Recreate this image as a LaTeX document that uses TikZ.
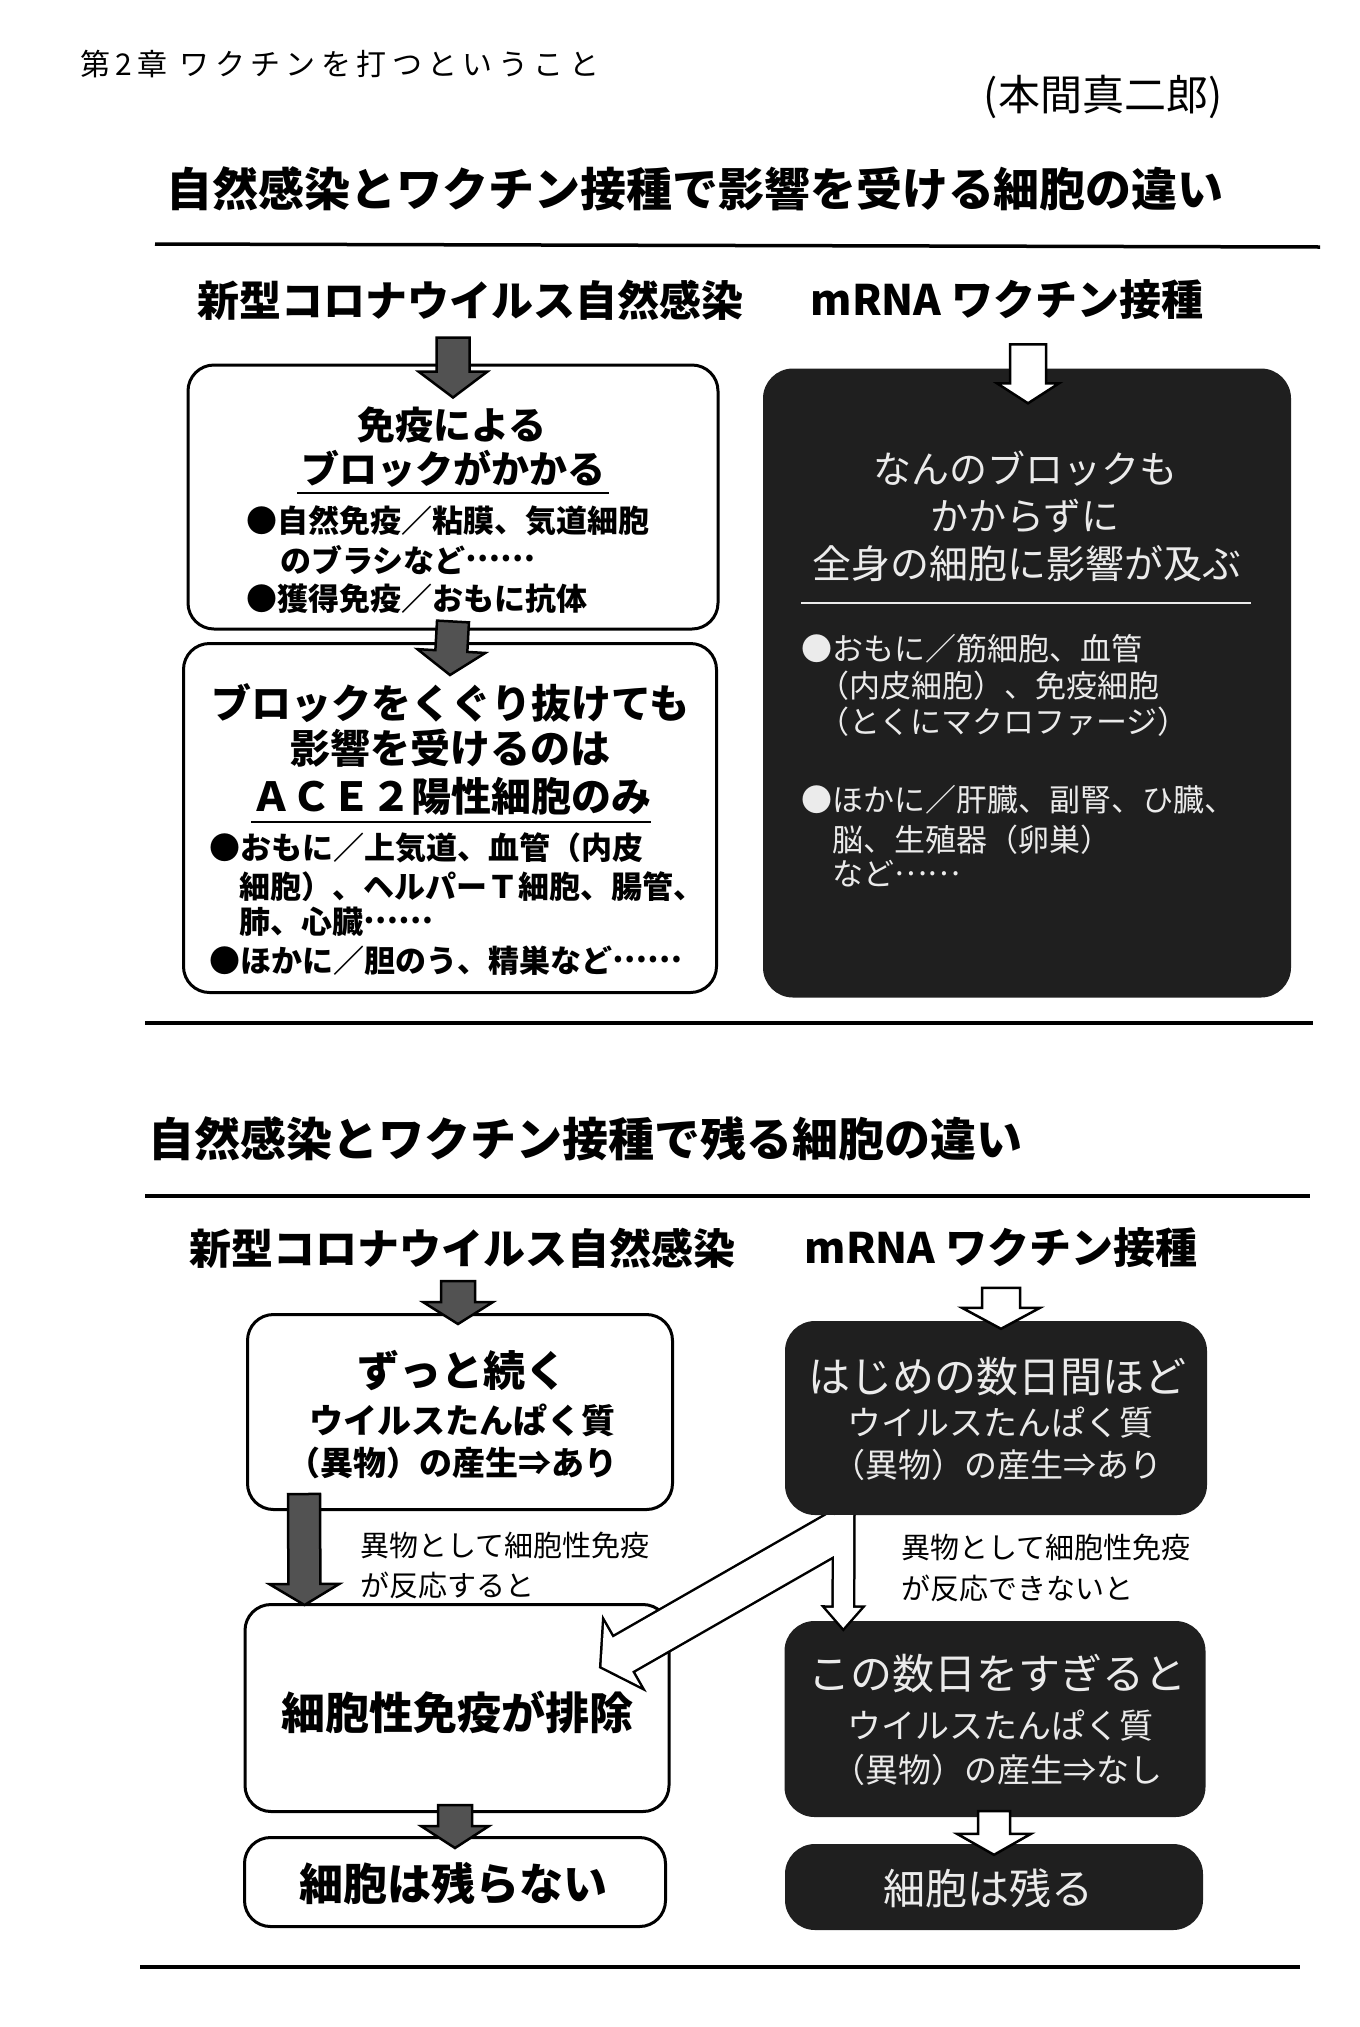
\documentclass[tikz,border=0pt]{standalone}
\usepackage{fontspec}
\setmainfont{Noto Sans CJK JP}
\usetikzlibrary{calc}

\newcommand\sz[1]{\fontsize{#1pt}{#1pt}\selectfont}
\newcommand\tdots{\raisebox{0.34em}{……}}
\newcommand\blockarrow[6][]{%
  \coordinate (ba) at ($(#3)!#6!(#2)$);
  \path[#1] ($(#2)!#4!90:(#3)$) -- ($(ba)!#4!-90:(#2)$) -- ($(ba)!#5!-90:(#2)$) -- (#3)
    -- ($(ba)!#5!90:(#2)$) -- ($(ba)!#4!90:(#2)$) -- ($(#2)!#4!-90:(#3)$) -- cycle;
}

\begin{document}
\begin{tikzpicture}[
    x=1pt, y=-1pt,
    wbox/.style={
      rectangle,
      draw=black,
      line width=3pt,
      fill=white,
      rounded corners=26pt,
      inner sep=0pt
    },
    kbox/.style={
      rectangle,
      fill=black!88,
      rounded corners=30pt,
      inner sep=0pt
    },
    txt/.style={inner sep=0pt},
    wtxt/.style={inner sep=0pt, text=white!92!black},
    rule/.style={line width=3.5pt},
    darr/.style={draw=black, line width=2.5pt, fill=black!68},
    warr/.style={draw=black, line width=2.5pt, fill=white}
]

\useasboundingbox (0,0) rectangle (1360,2027);

\node[txt, anchor=west, font=\sz{30}\addfontfeature{LetterSpace=18}] (chap) at (80,64) {第2章 ワクチンを打つということ};
\node[txt, font=\sz{42}] (sign) at (1103,97) {(本間真二郎)};
\node[txt, font=\bfseries\sz{46}] (ttl1) at (695,189) {自然感染とワクチン接種で影響を受ける細胞の違い};
\draw[rule] (155,244) -- (1320,247);

\node[txt, font=\bfseries\sz{42}] (natL1) at (470,300) {新型コロナウイルス自然感染};
\node[txt, font=\bfseries\sz{42}] (vacR1) at (1007,300) {mRNA ワクチン接種};

\node[wbox, minimum width=530pt, minimum height=264pt] (blk) at (453,497) {};
\node[txt, font=\bfseries\sz{38}] (blk1) at (452,425) {免疫による};
\node[txt, font=\bfseries\sz{38}] (blk2) at (453,469) {ブロックがかかる};
\draw[line width=2pt] (297,493) -- (609,493);
\node[txt, anchor=west, font=\bfseries\sz{31}] (blk3) at (246,521) {●自然免疫／粘膜、気道細胞};
\node[txt, anchor=west, font=\bfseries\sz{31}] (blk4) at (280,560) {のブラシなど\tdots};
\node[txt, anchor=west, font=\bfseries\sz{31}] (blk5) at (246,599) {●獲得免疫／おもに抗体};

\node[wbox, minimum width=533pt, minimum height=349pt] (pass) at (450,818) {};
\node[txt, font=\bfseries\sz{40}] (pass1) at (450,703) {ブロックをくぐり抜けても};
\node[txt, font=\bfseries\sz{40}] (pass2) at (450,748) {影響を受けるのは};
\node[txt, font=\bfseries\sz{40}] (pass3) at (451,796) {ＡＣＥ２陽性細胞のみ};
\draw[line width=2pt] (251,822) -- (651,822);
\node[txt, anchor=west, font=\bfseries\sz{31}] (pass4) at (209,848) {●おもに／上気道、血管（内皮};
\node[txt, anchor=west, font=\bfseries\sz{31}] (pass5) at (239,887) {細胞）、ヘルパーＴ細胞、腸管、};
\node[txt, anchor=west, font=\bfseries\sz{31}] (pass6) at (239,922) {肺、心臓\tdots};
\node[txt, anchor=west, font=\bfseries\sz{31}] (pass7) at (209,961) {●ほかに／胆のう、精巣など\tdots};

\node[kbox, minimum width=528pt, minimum height=629pt] (all) at (1027,683) {};
\node[wtxt, font=\sz{38}] (all1) at (1025,469) {なんのブロックも};
\node[wtxt, font=\sz{38}] (all2) at (1025,516) {かからずに};
\node[wtxt, font=\sz{39}] (all3) at (1027,564) {全身の細胞に影響が及ぶ};
\draw[line width=2pt, white!92!black] (801,603) -- (1251,603);
\node[wtxt, anchor=west, font=\sz{31}] (all4) at (801,649) {●おもに／筋細胞、血管};
\node[wtxt, anchor=west, font=\sz{31}] (all5) at (818,686) {（内皮細胞）、免疫細胞};
\node[wtxt, anchor=west, font=\sz{31}] (all6) at (818,722) {（とくにマクロファージ）};
\node[wtxt, anchor=west, font=\sz{31}] (all7) at (801,800) {●ほかに／肝臓、副腎、ひ臓、};
\node[wtxt, anchor=west, font=\sz{31}] (all8) at (832,840) {脳、生殖器（卵巣）};
\node[wtxt, anchor=west, font=\sz{31}] (all9) at (832,874) {など\tdots};

\coordinate (a0) at ($(blk.north)+(0,-26)$);
\coordinate (a1) at ($(blk.north)+(0,34)$);
\blockarrow[darr]{a0}{a1}{16.5pt}{34.5pt}{26pt}
\coordinate (b0) at ($(blk.south)+(0,-9)$);
\coordinate (b1) at ($(pass.north)+(0,33)$);
\blockarrow[darr]{b0}{b1}{16pt}{34pt}{24pt}
\coordinate (c0) at ($(all.north)+(1,-24)$);
\coordinate (c1) at ($(all.north)+(1,35)$);
\blockarrow[warr]{c0}{c1}{18pt}{31pt}{20pt}

\draw[rule] (145,1023) -- (1313,1023);
\node[txt, anchor=west, font=\bfseries\sz{46}] (ttl2) at (148,1139) {自然感染とワクチン接種で残る細胞の違い};
\draw[rule] (145,1196) -- (1310,1196);

\node[txt, font=\bfseries\sz{42}] (natL2) at (462,1248) {新型コロナウイルス自然感染};
\node[txt, font=\bfseries\sz{42}] (vacR2) at (1001,1248) {mRNA ワクチン接種};

\node[wbox, minimum width=425pt, minimum height=195pt] (cont) at (460,1412) {};
\node[txt, font=\bfseries\sz{42}] (cont1) at (462,1371) {ずっと続く};
\node[txt, font=\bfseries\sz{34}] (cont2) at (462,1420) {ウイルスたんぱく質};
\node[txt, font=\bfseries\sz{33}] (cont3) at (452,1463) {（異物）の産生⇒あり};

\node[kbox, minimum width=422pt, minimum height=194pt] (early) at (996,1418) {};
\node[wtxt, font=\sz{42}] (early1) at (997,1377) {はじめの数日間ほど};
\node[wtxt, font=\sz{34}] (early2) at (1000,1423) {ウイルスたんぱく質};
\node[wtxt, font=\sz{33}] (early3) at (997,1465) {（異物）の産生⇒あり};

\node[txt, anchor=west, font=\sz{29}] (mid1) at (360,1545) {異物として細胞性免疫};
\node[txt, anchor=west, font=\sz{29}] (mid2) at (360,1585) {が反応すると};
\node[txt, anchor=west, font=\sz{29}] (mid3) at (901,1547) {異物として細胞性免疫};
\node[txt, anchor=west, font=\sz{29}] (mid4) at (901,1588) {が反応できないと};

\node[wbox, minimum width=424pt, minimum height=207pt] (elim) at (457,1708) {};
\node[txt, font=\bfseries\sz{44}] (elim1) at (457,1712) {細胞性免疫が排除};

\node[kbox, minimum width=421pt, minimum height=196pt] (after) at (995,1719) {};
\node[wtxt, font=\sz{42}] (after1) at (997,1674) {この数日をすぎると};
\node[wtxt, font=\sz{34}] (after2) at (1000,1726) {ウイルスたんぱく質};
\node[wtxt, font=\sz{33}] (after3) at (997,1770) {（異物）の産生⇒なし};

\node[wbox, minimum width=421pt, minimum height=89pt] (gone) at (455,1882) {};
\node[txt, font=\bfseries\sz{44}] (gone1) at (453,1884) {細胞は残らない};

\node[kbox, minimum width=418pt, minimum height=86pt] (stay) at (994,1887) {};
\node[wtxt, font=\sz{42}] (stay1) at (988,1888) {細胞は残る};

\coordinate (d0) at ($(cont.north)+(-2,-32)$);
\coordinate (d1) at ($(cont.north)+(-2,11)$);
\blockarrow[darr]{d0}{d1}{17pt}{35pt}{22pt}
\coordinate (e0) at ($(early.north)+(5,-33)$);
\coordinate (e1) at ($(early.north)+(5,8)$);
\blockarrow[warr]{e0}{e1}{19pt}{39pt}{21pt}
\coordinate (f0) at ($(cont.south west)+(58,-17)$);
\coordinate (f1) at ($(elim.north west)+(61,2)$);
\blockarrow[darr]{f0}{f1}{16pt}{35pt}{21pt}
\coordinate (g0) at ($(elim.south)+(-2,-8)$);
\coordinate (g1) at ($(gone.north)+(0,12)$);
\blockarrow[darr]{g0}{g1}{17pt}{34pt}{22pt}
\coordinate (h0) at ($(after.south)+(-1,-6)$);
\coordinate (h1) at ($(stay.north)+(0,11)$);
\blockarrow[warr]{h0}{h1}{16pt}{37pt}{21pt}

\begin{scope}
  \clip (0,0 |- early.south) rectangle (1360,2027);
  \coordinate (v0) at ($(early.south west)+(59,-15)$);
  \coordinate (v1) at ($(after.north west)+(59,7)$);
  \coordinate (s0) at ($(early.south west)+(57,13.6)$);
  \coordinate (s1) at ($(elim.north east)+(-69,63.5)$);
  \blockarrow[draw=black, line width=5pt]{s0}{s1}{19.4pt}{36.5pt}{24pt}
  \blockarrow[draw=black, line width=5pt]{v0}{v1}{9.5pt}{17.5pt}{20pt}
  \blockarrow[fill=white]{s0}{s1}{19.4pt}{36.5pt}{24pt}
  \blockarrow[fill=white]{v0}{v1}{9.5pt}{17.5pt}{20pt}
\end{scope}

\draw[rule] (140,1967) -- (1300,1967);

\end{tikzpicture}
\end{document}
